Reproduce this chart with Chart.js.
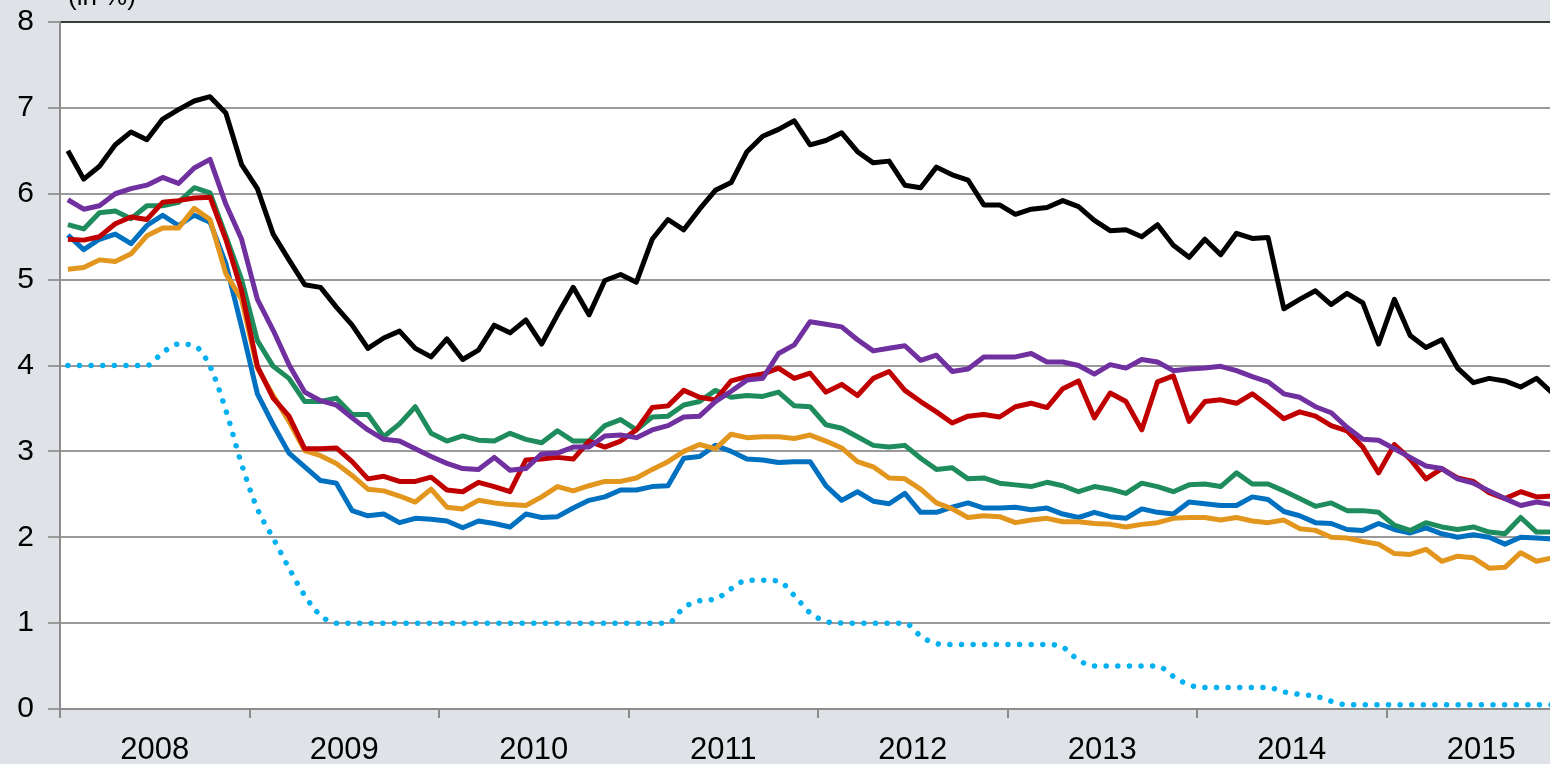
<!DOCTYPE html>
<html lang="en">
<head>
<meta charset="UTF-8">
<title>Interest rates, 2008-2015</title>
<script src="https://cdn.jsdelivr.net/npm/chart.js@4.4.0/dist/chart.umd.min.js"></script>
<style>
    html, body { margin: 0; padding: 0; background: #dfe3e8; overflow: hidden; }
    #wrap { width: 1580px; height: 764px; }
</style>
</head>
<body>
<div id="wrap"><canvas id="rates" width="1580" height="764"></canvas></div>

<script>
// Year tick labels (one per 12 monthly points)
const years = ['2008', '2009', '2010', '2011', '2012', '2013', '2014', '2015'];

// Monthly series, Jan 2008 - Dec 2015 (in %)
const seriesBlack = [
    6.50, 6.17, 6.32, 6.57, 6.72, 6.63, 6.87, 6.98, 7.08, 7.13, 6.94, 6.34,
    6.06, 5.53, 5.23, 4.94, 4.91, 4.68, 4.47, 4.20, 4.32, 4.40, 4.20, 4.10,
    4.31, 4.07, 4.18, 4.47, 4.38, 4.53, 4.25, 4.59, 4.91, 4.59, 4.99, 5.06,
    4.97, 5.47, 5.70, 5.58, 5.82, 6.04, 6.13, 6.49, 6.67, 6.75, 6.85, 6.57,
    6.62, 6.71, 6.49, 6.36, 6.38, 6.10, 6.07, 6.31, 6.22, 6.16, 5.87, 5.87,
    5.76, 5.82, 5.84, 5.92, 5.85, 5.69, 5.57, 5.58, 5.50, 5.64, 5.40, 5.26,
    5.47, 5.29, 5.54, 5.48, 5.49, 4.66, 4.77, 4.87, 4.71, 4.84, 4.73, 4.25,
    4.77, 4.35, 4.21, 4.30, 3.97, 3.80, 3.85, 3.82, 3.75, 3.85, 3.68, 3.60
];
const seriesPurple = [
    5.93, 5.82, 5.86, 6.00, 6.06, 6.10, 6.19, 6.12, 6.30, 6.40, 5.88, 5.47,
    4.77, 4.41, 4.01, 3.69, 3.59, 3.54, 3.39, 3.25, 3.14, 3.12, 3.03, 2.94,
    2.86, 2.80, 2.79, 2.93, 2.78, 2.80, 2.97, 2.98, 3.05, 3.05, 3.18, 3.19,
    3.16, 3.25, 3.30, 3.40, 3.41, 3.58, 3.70, 3.83, 3.85, 4.14, 4.24, 4.51,
    4.48, 4.45, 4.30, 4.17, 4.20, 4.23, 4.06, 4.12, 3.93, 3.96, 4.10, 4.10,
    4.10, 4.14, 4.04, 4.04, 4.00, 3.90, 4.01, 3.97, 4.07, 4.04, 3.94, 3.96,
    3.97, 3.99, 3.94, 3.87, 3.81, 3.67, 3.63, 3.52, 3.45, 3.28, 3.14, 3.13,
    3.03, 2.93, 2.83, 2.80, 2.68, 2.63, 2.54, 2.45, 2.37, 2.41, 2.38, 2.35
];
const seriesRed = [
    5.47, 5.46, 5.50, 5.65, 5.73, 5.70, 5.90, 5.92, 5.95, 5.96, 5.47, 4.87,
    3.99, 3.62, 3.41, 3.03, 3.03, 3.04, 2.88, 2.68, 2.71, 2.65, 2.65, 2.70,
    2.55, 2.53, 2.64, 2.59, 2.53, 2.90, 2.91, 2.93, 2.91, 3.12, 3.05, 3.12,
    3.25, 3.51, 3.53, 3.71, 3.63, 3.60, 3.82, 3.87, 3.90, 3.97, 3.85, 3.91,
    3.69, 3.78, 3.65, 3.85, 3.93, 3.71, 3.58, 3.46, 3.33, 3.41, 3.43, 3.40,
    3.52, 3.56, 3.51, 3.73, 3.82, 3.39, 3.68, 3.58, 3.25, 3.81, 3.88, 3.35,
    3.58, 3.60, 3.56, 3.67, 3.53, 3.38, 3.46, 3.41, 3.30, 3.24, 3.05, 2.75,
    3.08, 2.91, 2.68, 2.80, 2.69, 2.65, 2.52, 2.45, 2.53, 2.47, 2.48, 2.50
];
const seriesGreen = [
    5.64, 5.59, 5.78, 5.80, 5.71, 5.86, 5.86, 5.90, 6.07, 6.01, 5.51, 5.00,
    4.29, 3.99, 3.85, 3.58, 3.58, 3.62, 3.43, 3.43, 3.17, 3.32, 3.52, 3.21,
    3.12, 3.18, 3.13, 3.12, 3.21, 3.14, 3.10, 3.24, 3.12, 3.12, 3.30, 3.37,
    3.25, 3.40, 3.41, 3.54, 3.58, 3.71, 3.63, 3.65, 3.64, 3.69, 3.53, 3.52,
    3.31, 3.27, 3.17, 3.07, 3.05, 3.07, 2.92, 2.79, 2.81, 2.68, 2.69, 2.63,
    2.61, 2.59, 2.64, 2.60, 2.53, 2.59, 2.56, 2.51, 2.63, 2.59, 2.53, 2.61,
    2.62, 2.59, 2.75, 2.62, 2.62, 2.54, 2.45, 2.36, 2.40, 2.31, 2.31, 2.29,
    2.14, 2.08, 2.17, 2.12, 2.09, 2.12, 2.06, 2.04, 2.23, 2.06, 2.06, 2.05
];
const seriesBlue = [
    5.52, 5.35, 5.47, 5.53, 5.42, 5.63, 5.75, 5.63, 5.75, 5.67, 5.19, 4.45,
    3.67, 3.31, 2.98, 2.82, 2.66, 2.63, 2.31, 2.25, 2.27, 2.17, 2.22, 2.21,
    2.19, 2.11, 2.19, 2.16, 2.12, 2.27, 2.23, 2.24, 2.34, 2.43, 2.47, 2.55,
    2.55, 2.59, 2.60, 2.92, 2.94, 3.07, 3.00, 2.91, 2.90, 2.87, 2.88, 2.88,
    2.60, 2.43, 2.53, 2.42, 2.39, 2.51, 2.29, 2.29, 2.35, 2.40, 2.34, 2.34,
    2.35, 2.32, 2.34, 2.27, 2.23, 2.29, 2.24, 2.22, 2.33, 2.29, 2.27, 2.41,
    2.39, 2.37, 2.37, 2.47, 2.44, 2.30, 2.25, 2.17, 2.16, 2.09, 2.08, 2.16,
    2.09, 2.05, 2.11, 2.04, 2.00, 2.03, 2.00, 1.92, 2.00, 1.99, 1.98, 1.98
];
const seriesOrange = [
    5.12, 5.14, 5.23, 5.21, 5.30, 5.51, 5.60, 5.60, 5.83, 5.70, 5.07, 4.77,
    3.97, 3.65, 3.35, 3.01, 2.95, 2.86, 2.72, 2.56, 2.54, 2.48, 2.41, 2.56,
    2.35, 2.33, 2.43, 2.40, 2.38, 2.37, 2.47, 2.59, 2.54, 2.60, 2.65, 2.65,
    2.69, 2.79, 2.88, 3.00, 3.08, 3.03, 3.20, 3.16, 3.17, 3.17, 3.15, 3.19,
    3.12, 3.04, 2.88, 2.82, 2.69, 2.68, 2.56, 2.40, 2.33, 2.23, 2.25, 2.24,
    2.17, 2.20, 2.22, 2.18, 2.18, 2.16, 2.15, 2.12, 2.15, 2.17, 2.22, 2.23,
    2.23, 2.20, 2.23, 2.19, 2.17, 2.20, 2.10, 2.08, 2.00, 1.99, 1.95, 1.92,
    1.81, 1.80, 1.86, 1.72, 1.78, 1.76, 1.64, 1.65, 1.82, 1.72, 1.76, 1.78
];
// Policy rate, dotted
const policyRate = [
    4.00, 4.00, 4.00, 4.00, 4.00, 4.00, 4.15, 4.25, 4.23, 3.99, 3.48, 2.85,
    2.33, 1.99, 1.64, 1.32, 1.09, 1.00, 1.00, 1.00, 1.00, 1.00, 1.00, 1.00,
    1.00, 1.00, 1.00, 1.00, 1.00, 1.00, 1.00, 1.00, 1.00, 1.00, 1.00, 1.00,
    1.00, 1.00, 1.00, 1.18, 1.26, 1.28, 1.40, 1.50, 1.50, 1.49, 1.32, 1.12,
    1.02, 1.00, 1.00, 1.00, 1.00, 1.00, 0.85, 0.76, 0.75, 0.75, 0.75, 0.75,
    0.75, 0.75, 0.75, 0.72, 0.57, 0.50, 0.50, 0.50, 0.50, 0.50, 0.38, 0.28,
    0.25, 0.25, 0.25, 0.25, 0.25, 0.20, 0.17, 0.15, 0.09, 0.05, 0.05, 0.05,
    0.05, 0.05, 0.05, 0.05, 0.05, 0.05, 0.05, 0.05, 0.05, 0.05, 0.05, 0.05
];

const FONT = 'Liberation Sans, Arial, sans-serif';

// monthly points sit in the middle of each month slot
function pts(arr) {
    return arr.map((v, i) => ({ x: i + 0.5, y: v }));
}

function line(data, color) {
    return {
        data: pts(data),
        borderColor: color,
        borderWidth: 5,
        borderJoinStyle: 'round',
        pointRadius: 0,
        tension: 0,
        fill: false
    };
}

const bgPlugin = {
    id: 'bg',
    beforeDraw(chart) {
        const { ctx, chartArea: a } = chart;
        ctx.save();
        ctx.fillStyle = '#dfe3e8';
        ctx.fillRect(0, 0, chart.width, chart.height);
        ctx.fillStyle = '#ffffff';
        ctx.fillRect(a.left, a.top, a.right - a.left, a.bottom - a.top);
        ctx.restore();
    },
    afterDraw(chart) {
        const { ctx } = chart;
        ctx.save();
        ctx.fillStyle = '#000';
        ctx.font = '26px ' + FONT;
        ctx.textBaseline = 'alphabetic';
        ctx.fillText('(in %)', 68, 5);
        ctx.restore();
    }
};

new Chart(document.getElementById('rates'), {
    type: 'line',
    data: {
        datasets: [
            line(seriesBlack, '#000000'),
            line(seriesPurple, '#7030a0'),
            line(seriesRed, '#c00000'),
            line(seriesGreen, '#1e8c5c'),
            line(seriesOrange, '#e3961e'),
            line(seriesBlue, '#0070c0'),
            Object.assign(line(policyRate, '#00b0f0'), {
                borderWidth: 5.5,
                borderDash: [0.01, 11.6],
                borderCapStyle: 'round',
                cubicInterpolationMode: 'monotone'
            })
        ]
    },
    options: {
        responsive: false,
        animation: false,
        devicePixelRatio: 1,
        layout: { padding: { top: 22, right: 4, left: 0, bottom: 0 } },
        plugins: { legend: { display: false }, tooltip: { enabled: false } },
        scales: {
            x: {
                type: 'linear',
                min: 0,
                max: 96,
                afterBuildTicks: (s) => {
                    s.ticks = [];
                    for (let v = 0; v <= 96; v += 6) s.ticks.push({ value: v });
                },
                afterFit: (s) => {
                    s.height = 55;
                    s.paddingLeft = 0;
                    s.paddingRight = 0;
                },
                ticks: {
                    autoSkip: false,
                    maxRotation: 0,
                    padding: 14,
                    color: '#000',
                    font: { family: FONT, size: 31 },
                    callback: (v) => (v % 12 === 6 ? years[(v - 6) / 12] : '')
                },
                grid: {
                    drawOnChartArea: false,
                    tickLength: 9,
                    lineWidth: 2,
                    color: (c) => (c.tick && c.tick.value % 12 === 0 ? '#8c8c8c' : 'rgba(0,0,0,0)')
                },
                border: { display: true, color: '#8c8c8c', width: 2 }
            },
            y: {
                min: 0,
                max: 8,
                afterFit: (s) => {
                    s.width = 60;
                    s.paddingTop = 0;
                    s.paddingBottom = 0;
                },
                ticks: {
                    stepSize: 1,
                    padding: 14,
                    color: '#000',
                    font: { family: FONT, size: 30 }
                },
                grid: {
                    tickLength: 12,
                    lineWidth: 2,
                    color: (c) => (c.tick && c.tick.value === 8 ? '#3a3a3a' : '#9a9a9a'),
                    tickColor: '#9a9a9a'
                },
                border: { display: true, color: '#8c8c8c', width: 2 }
            }
        }
    },
    plugins: [bgPlugin]
});
</script>
</body>
</html>
